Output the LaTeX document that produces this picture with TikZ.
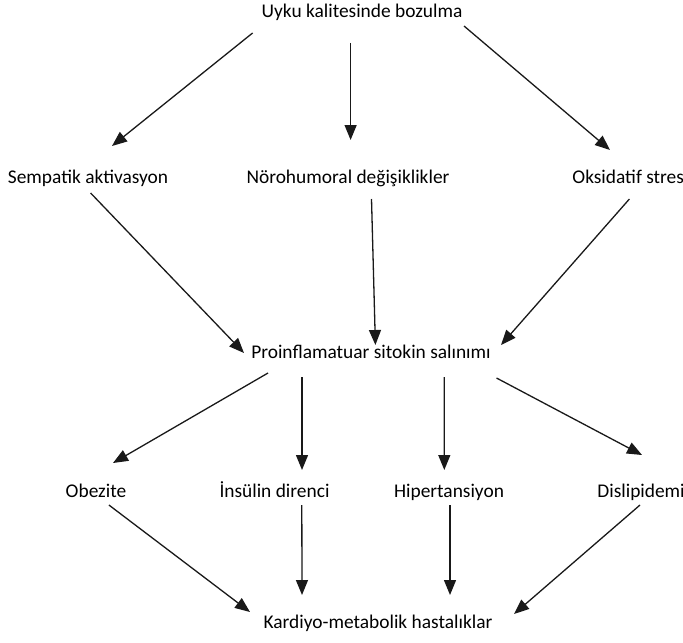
\documentclass[tikz,border=0pt]{standalone}
\usepackage{fontspec}
\setmainfont{Carlito}
\usetikzlibrary{arrows.meta,calc}

\begin{document}
\begin{tikzpicture}[x=0.5pt, y=-0.5pt,
		box/.style={inner sep=0pt, font=\fontsize{9.7}{11.6}\selectfont, text height=0.72em, text depth=0.2em},
		arr/.style={-{Triangle[length=7.5pt, width=6pt]}, line width=0.65pt, black!90}]

			% page size of the picture (in px)
			\useasboundingbox (0,0) rectangle (683,642);

			% Nodes
			\node[box] (uyku) at (362,12) {Uyku kalitesinde bozulma};
			\node[box] (sempatik) at (88,178) {Sempatik aktivasyon};
			\node[box] (noro) at (348,178) {Nörohumoral değişiklikler};
			\node[box, anchor=west] (oksi) at (572,178) {Oksidatif stres};
			\node[box] (proin) at (371,353) {Proinflamatuar sitokin salınımı};
			\node[box] (obezite) at (96,492) {Obezite};
			\node[box] (insulin) at (274.5,492) {İnsülin direnci};
			\node[box] (hiper) at (449,492) {Hipertansiyon};
			\node[box, anchor=west] (disli) at (597,492) {Dislipidemi};
			\node[box] (kardiyo) at (378,623) {Kardiyo-metabolik hastalıklar};

			% Arrows from the top
			\draw[arr] ([shift={(-109.4,21)}]uyku.center) -- ([shift={(24,-32)}]sempatik.center);
			\draw[arr] ([shift={(-11.4,31)}]uyku.center) -- ([shift={(2.6,-38)}]noro.center);
			\draw[arr] ([shift={(102,14)}]uyku.center) -- ([shift={(38,-28)}]oksi.west);

			% Arrows to the cytokines
			\draw[arr] ([shift={(2.6,15)}]sempatik.center) -- ([shift={(-127,0)}]proin.center);
			\draw[arr] ([shift={(23.5,21)}]noro.center) -- ([shift={(4.4,-8)}]proin.center);
			\draw[arr] ([shift={(57.4,21)}]oksi.west) -- ([shift={(130,-8)}]proin.center);

			% Arrows to the four outcomes
			\draw[arr] ([shift={(-103,20)}]proin.center) -- ([shift={(17,-29)}]obezite.center);
			\draw[arr] ([shift={(-69,24)}]proin.center) -- ([shift={(27.5,-22)}]insulin.center);
			\draw[arr] ([shift={(73.3,24)}]proin.center) -- ([shift={(-4.7,-22)}]hiper.center);
			\draw[arr] ([shift={(125.5,25)}]proin.center) -- ([shift={(45,-37)}]disli.west);

			% Arrows to the bottom
			\draw[arr] ([shift={(12.9,13)}]obezite.center) -- ([shift={(-128,-11)}]kardiyo.center);
			\draw[arr] ([shift={(27.3,13)}]insulin.center) -- ([shift={(-76,-28)}]kardiyo.center);
			\draw[arr] ([shift={(1,13)}]hiper.center) -- ([shift={(72,-28)}]kardiyo.center);
			\draw[arr] ([shift={(43,13)}]disli.west) -- ([shift={(136,-9)}]kardiyo.center);
		\end{tikzpicture}
\end{document}
